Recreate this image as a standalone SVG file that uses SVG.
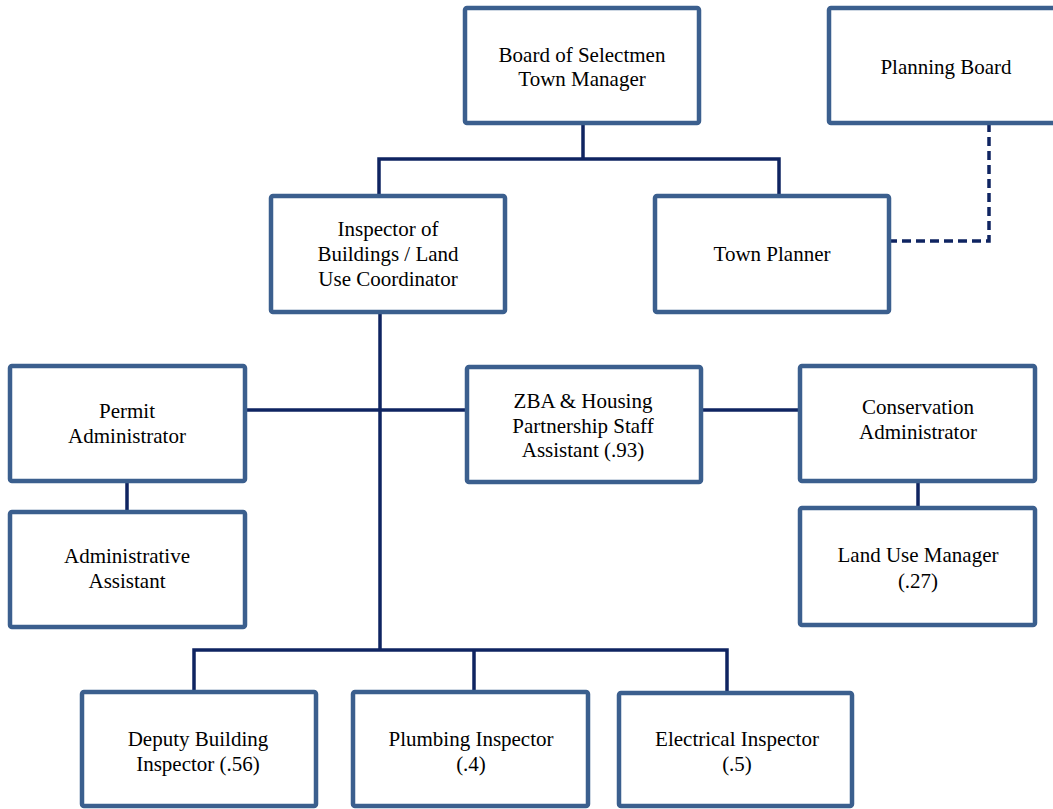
<svg xmlns="http://www.w3.org/2000/svg" width="1053" height="809" viewBox="0 0 1053 809">
<style>
.box{fill:#fff;stroke:#3B5F8E;stroke-width:4.5}
.t{font-family:"Liberation Serif","Times New Roman",serif;font-size:21px;fill:#000;text-anchor:middle}
.c{fill:none;stroke:#0F2461;stroke-width:3.5}
.d{fill:none;stroke:#0F2461;stroke-width:3.5;stroke-dasharray:9,5}
</style>
<rect width="1053" height="809" fill="#fff"/>
<g id="connectors">
<path class="c" d="M583 123V159M379 196V159H779V196"/>
<path class="d" d="M989 123V241H891"/>
<path class="c" d="M380 312V650M194 692V650H727V692M474 650V692"/>
<path class="c" d="M245 410H467M701 410H800"/>
<path class="c" d="M127 481V512M918 481V508"/>
</g>
<g id="board"><rect class="box" x="465" y="8" width="234" height="115" rx="2"/><text class="t" x="582" y="62">Board of Selectmen</text><text class="t" x="582" y="86">Town Manager</text></g>
<g id="planning-board"><rect class="box" x="829" y="8" width="234" height="115" rx="2"/><text class="t" x="946" y="74">Planning Board</text></g>
<g id="inspector"><rect class="box" x="271" y="196" width="234" height="116" rx="2"/><text class="t" x="388" y="236">Inspector of</text><text class="t" x="388" y="261">Buildings / Land</text><text class="t" x="388" y="286">Use Coordinator</text></g>
<g id="town-planner"><rect class="box" x="655" y="196" width="234" height="116" rx="2"/><text class="t" x="772" y="261">Town Planner</text></g>
<g id="permit"><rect class="box" x="10" y="366" width="235" height="115" rx="2"/><text class="t" x="127" y="418">Permit</text><text class="t" x="127" y="443">Administrator</text></g>
<g id="admin-assistant"><rect class="box" x="10" y="512" width="235" height="115" rx="2"/><text class="t" x="127" y="563">Administrative</text><text class="t" x="127" y="588">Assistant</text></g>
<g id="zba"><rect class="box" x="467" y="367" width="234" height="115" rx="2"/><text class="t" x="583" y="408">ZBA &amp; Housing</text><text class="t" x="583" y="433">Partnership Staff</text><text class="t" x="583" y="457">Assistant (.93)</text></g>
<g id="conservation"><rect class="box" x="800" y="366" width="235" height="115" rx="2"/><text class="t" x="918" y="414">Conservation</text><text class="t" x="918" y="439">Administrator</text></g>
<g id="land-use"><rect class="box" x="800" y="508" width="235" height="117" rx="2"/><text class="t" x="918" y="562">Land Use Manager</text><text class="t" x="918" y="588">(.27)</text></g>
<g id="deputy"><rect class="box" x="82" y="692" width="234" height="114" rx="2"/><text class="t" x="198" y="746">Deputy Building</text><text class="t" x="198" y="771">Inspector (.56)</text></g>
<g id="plumbing"><rect class="box" x="353" y="692" width="235" height="114" rx="2"/><text class="t" x="471" y="746">Plumbing Inspector</text><text class="t" x="471" y="771">(.4)</text></g>
<g id="electrical"><rect class="box" x="619" y="693" width="233" height="113" rx="2"/><text class="t" x="737" y="746">Electrical Inspector</text><text class="t" x="737" y="771">(.5)</text></g>
</svg>
